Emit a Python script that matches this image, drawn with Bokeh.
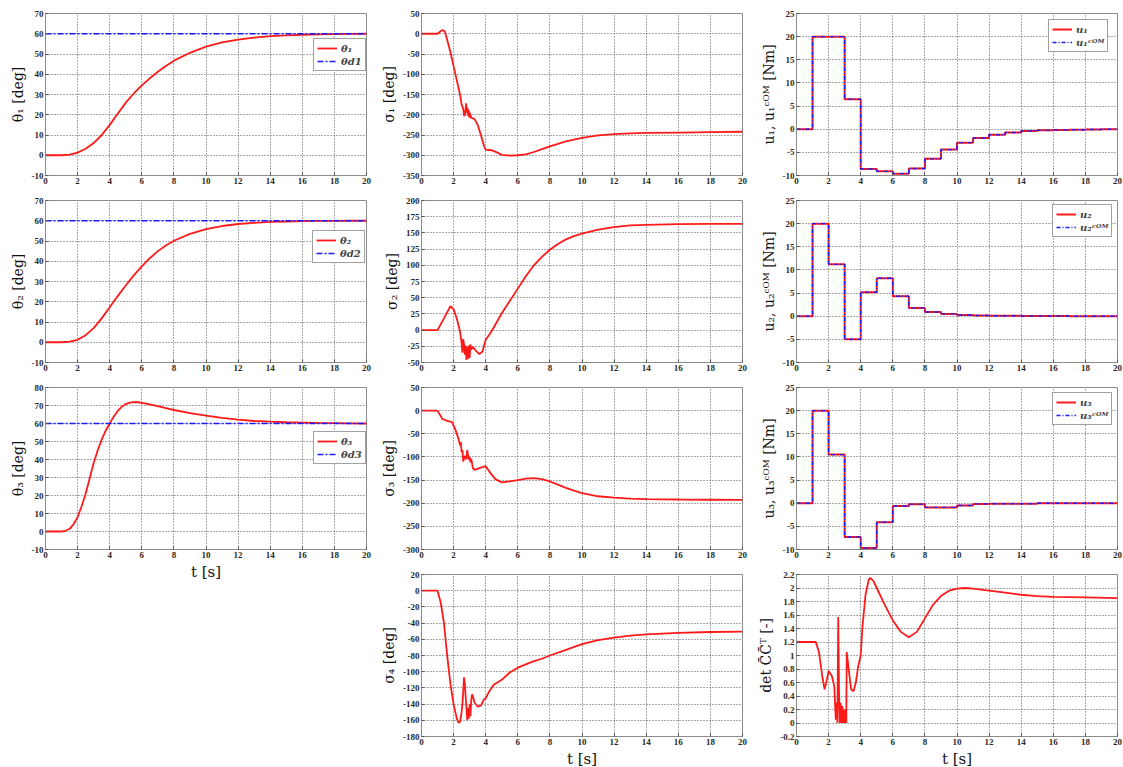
from bokeh.plotting import figure
from bokeh.models import Range1d, FixedTicker, CustomJSTickFormatter, Legend, LegendItem
from bokeh.layouts import row, column
from bokeh.embed import file_html
from bokeh.resources import INLINE

# ---------------- data ----------------
t_theta = [0, 1, 1.5, 2, 2.5, 3, 3.5, 4, 4.5, 5, 5.5, 6, 6.5, 7, 7.5, 8, 9, 10, 11, 12, 13, 14, 15, 16, 17, 18, 19, 20]
theta1 = [0, 0, 0.3, 1.3, 3.2, 6, 10, 15, 20.5, 26, 30.5, 34.5, 38, 41.2, 44.1, 46.7, 50.6, 53.6, 55.7, 57.1, 58.1, 58.8, 59.2, 59.5, 59.7, 59.8, 59.9, 60]
theta2 = [0, 0, 0.3, 1.2, 3.5, 7, 11.8, 17.3, 22.8, 28, 33, 37.5, 41.5, 45, 47.8, 50.1, 53.5, 55.9, 57.4, 58.4, 59, 59.4, 59.6, 59.8, 59.9, 59.95, 60, 60]
t_theta3 = [0, 1, 1.25, 1.5, 1.75, 2, 2.25, 2.5, 2.75, 3, 3.25, 3.5, 3.75, 4, 4.25, 4.5, 4.75, 5, 5.25, 5.5, 5.75, 6, 6.5, 7, 7.5, 8, 9, 10, 11, 12, 13, 14, 15, 16, 17, 18, 19, 20]
theta3 = [0, 0, 0.4, 1.5, 4, 8, 14, 21, 29.5, 38, 45, 51, 56, 60, 63.8, 67, 69.3, 70.8, 71.6, 71.9, 71.8, 71.5, 70.6, 69.6, 68.5, 67.5, 65.8, 64.4, 63.1, 62.1, 61.4, 61, 60.7, 60.5, 60.3, 60.2, 60.1, 60]
t_des = [0, 20]
theta_d1 = [60, 60]
theta_d2 = [60, 60]
theta_d3 = [60, 60]

t_s1 = [0, 1.0, 1.15, 1.3, 1.45, 1.6, 1.8, 2.0, 2.2, 2.4, 2.5, 2.6, 2.65, 2.72, 2.78, 2.82, 2.86, 2.9, 2.94, 2.98, 3.02, 3.1, 3.3, 3.5, 3.7, 3.9, 4.0, 4.2, 4.4, 4.7, 5.0, 5.5, 6.0, 6.5, 7, 7.5, 8, 9, 10, 11, 12, 13, 14, 16, 18, 20]
sigma1 = [0, 0, 5, 9, 6, -15, -45, -80, -115, -150, -175, -185, -203, -198, -172, -195, -183, -202, -188, -207, -195, -208, -210, -225, -250, -278, -286, -287, -288, -293, -299, -301, -300, -298, -292, -285, -278, -266, -257, -251, -248, -246, -245, -244, -243, -242]

t_s2 = [0, 1.0, 1.4, 1.8, 2.0, 2.2, 2.4, 2.5, 2.55, 2.6, 2.65, 2.7, 2.75, 2.8, 2.85, 2.9, 2.95, 3.0, 3.05, 3.1, 3.2, 3.4, 3.6, 3.8, 4.0, 4.2, 4.5, 5, 5.5, 6, 6.5, 7, 7.5, 8, 8.5, 9, 9.5, 10, 11, 12, 13, 14, 16, 18, 20]
sigma2 = [0, 0, 18, 37, 32, 18, -2, -20, -35, -14, -22, -38, -24, -46, -26, -44, -24, -43, -22, -30, -26, -32, -37, -33, -15, -8, 4, 26, 45, 64, 83, 100, 113, 124, 133, 140, 145, 149, 155, 159, 161.5, 162.5, 163.5, 164, 164]

t_s3 = [0, 1.0, 1.3, 1.6, 1.9, 2.1, 2.3, 2.4, 2.45, 2.5, 2.55, 2.6, 2.7, 2.8, 2.85, 2.9, 2.95, 3.0, 3.05, 3.1, 3.2, 3.3, 3.6, 4.0, 4.3, 4.6, 5.0, 5.5, 6, 6.5, 7, 7.5, 8, 8.5, 9, 9.5, 10, 11, 12, 13, 14, 16, 18, 20]
sigma3 = [0, 0, -18, -22, -25, -40, -60, -75, -68, -90, -85, -110, -98, -105, -85, -96, -106, -100, -112, -104, -124, -128, -124, -120, -135, -148, -155, -153, -150, -147, -146, -148, -153, -160, -167, -173, -178, -185, -188, -190, -191, -192, -192.5, -193]

t_s4 = [0, 1.0, 1.2, 1.4, 1.6, 1.8, 2.0, 2.2, 2.3, 2.4, 2.5, 2.55, 2.6, 2.65, 2.7, 2.75, 2.8, 2.85, 2.9, 2.95, 3.0, 3.05, 3.1, 3.15, 3.2, 3.3, 3.5, 3.7, 3.9, 4.0, 4.2, 4.5, 5, 5.5, 6, 6.5, 7, 7.5, 8, 9, 10, 11, 12, 13, 14, 16, 18, 20]
sigma4 = [0, 0, -15, -40, -80, -115, -140, -158, -163, -162, -150, -140, -125, -107, -115, -130, -145, -160, -145, -158, -140, -155, -135, -128, -130, -138, -143, -142, -134, -133, -125, -116, -110, -101, -95, -91, -87, -84, -80, -73, -66, -61, -58, -55.5, -54, -52, -51, -50.5]

t_det = [0, 1.2, 1.4, 1.6, 1.75, 1.9, 2.0, 2.2, 2.35, 2.45, 2.5, 2.55, 2.6, 2.65, 2.7, 2.75, 2.8, 2.85, 2.9, 2.95, 3.0, 3.05, 3.1, 3.13, 3.25, 3.4, 3.55, 3.7, 3.85, 4.0, 4.1, 4.3, 4.5, 4.6, 4.8, 5, 5.5, 6, 6.5, 7, 7.5, 8, 8.5, 9, 9.5, 10, 10.5, 11, 12, 13, 14, 15, 16, 18, 20]
det_cc = [1.2, 1.2, 1.05, 0.7, 0.5, 0.65, 0.77, 0.7, 0.55, 0.05, 0.3, 0.0, 1.57, 0.45, 0.0, 0.3, 0.0, 0.25, 0.0, 0.2, 0.0, 0.2, 0.0, 1.05, 0.8, 0.5, 0.47, 0.6, 0.85, 1.0, 1.4, 1.9, 2.12, 2.15, 2.1, 2.0, 1.75, 1.52, 1.35, 1.27, 1.35, 1.55, 1.75, 1.88, 1.96, 1.99, 2.0, 1.99, 1.96, 1.93, 1.9, 1.88, 1.87, 1.86, 1.85]

t_u = [0, 1, 2, 3, 4, 5, 6, 7, 8, 9, 10, 11, 12, 13, 14, 15, 16, 17, 18, 19, 20]
u1 = [0, 20, 20, 6.5, -8.6, -9.1, -9.6, -8.5, -6.4, -4.4, -2.9, -1.9, -1.2, -0.7, -0.4, -0.25, -0.15, -0.1, -0.05, 0, 0]
u2 = [0, 20, 11.2, -5, 5.2, 8.2, 4.3, 1.8, 0.9, 0.5, 0.25, 0.15, 0.1, 0.1, 0.05, 0.05, 0.05, 0, 0, 0, 0]
u3 = [0, 20, 10.5, -7.3, -9.7, -4.1, -0.6, -0.2, -0.9, -0.9, -0.5, -0.15, -0.1, -0.1, -0.1, 0, 0, 0, 0, 0, 0]
u1_com = list(u1)
u2_com = list(u2)
u3_com = list(u3)

x_ticks = [0, 2, 4, 6, 8, 10, 12, 14, 16, 18, 20]

RED = "#ff1a1a"
BLUE = "#1a1aff"
SERIF = "Liberation Serif"
LABEL_FONT = "DejaVu Serif"
DASHDOT = "6 2 2 2"


def ticks(lo, hi, step):
    n = int(round((hi - lo) / step))
    return [round(lo + i * step, 6) for i in range(n + 1)]


def make_fig(ylo, yhi, ystep, ylabel, xlabel=None, top=12, bottom=13, right=9):
    p = figure(frame_width=321, frame_height=162,
               x_range=Range1d(0, 20), y_range=Range1d(ylo, yhi),
               output_backend="svg", toolbar_location=None, title=None,
               min_border_left=45, min_border_right=right,
               min_border_top=top, min_border_bottom=bottom,
               background_fill_color="white", border_fill_color="white")
    p.xaxis.ticker = FixedTicker(ticks=x_ticks)
    p.yaxis.ticker = FixedTicker(ticks=ticks(ylo, yhi, ystep))
    fmt = "return (Math.round(tick*1000)/1000).toString();"
    p.xaxis.formatter = CustomJSTickFormatter(code=fmt)
    p.yaxis.formatter = CustomJSTickFormatter(code=fmt)
    for ax in p.axis:
        ax.major_label_text_font = SERIF
        ax.major_label_text_font_style = "bold"
        ax.major_label_text_font_size = "9px"
        ax.major_label_text_color = "#2a2a2a"
        ax.major_tick_in = 3
        ax.major_tick_out = 0
        ax.minor_tick_in = 0
        ax.minor_tick_out = 0
        ax.major_label_standoff = 2
        ax.axis_line_color = "#8c8c8c"
        ax.major_tick_line_color = "#555555"
        ax.axis_label_text_font = LABEL_FONT
        ax.axis_label_text_font_style = "normal"
        ax.axis_label_text_color = "#111111"
    p.yaxis.axis_label = ylabel
    p.yaxis.axis_label_text_font_size = "14px"
    p.yaxis.axis_label_standoff = 3
    if xlabel:
        p.xaxis.axis_label = xlabel
        p.xaxis.axis_label_text_font_size = "15px"
        p.xaxis.axis_label_standoff = 2
    for g in (p.xgrid, p.ygrid):
        g.grid_line_color = "#444444"
        g.grid_line_dash = "1 2"
        g.grid_line_alpha = 0.9
        g.grid_line_width = 1
    p.outline_line_color = "#8c8c8c"
    return p


def add_legend(p, items, loc):
    lg = Legend(items=[LegendItem(label=l, renderers=[r]) for l, r in items], location=loc)
    lg.label_text_font = LABEL_FONT
    lg.label_text_font_style = "bold italic"
    lg.label_text_font_size = "10px"
    lg.glyph_width = 20
    lg.glyph_height = 12
    lg.label_height = 12
    lg.label_standoff = 4
    lg.padding = 3
    lg.spacing = 1
    lg.margin = 0
    lg.border_line_color = "#444444"
    lg.border_line_width = 1
    lg.background_fill_color = "white"
    lg.background_fill_alpha = 1
    p.add_layout(lg)


# ---------- column 1 ----------
f_th1 = make_fig(-10, 70, 10, "θ₁ [deg]", top=13, right=10)
r1 = f_th1.line(t_theta, theta1, color=RED, line_width=1.8)
r2 = f_th1.line(t_des, theta_d1, color=BLUE, line_width=1.6, line_dash=DASHDOT)
add_legend(f_th1, [("θ₁", r1), ("θd1", r2)], (268, 104))

f_th2 = make_fig(-10, 70, 10, "θ₂ [deg]", right=10)
r1 = f_th2.line(t_theta, theta2, color=RED, line_width=1.8)
r2 = f_th2.line(t_des, theta_d2, color=BLUE, line_width=1.6, line_dash=DASHDOT)
add_legend(f_th2, [("θ₂", r1), ("θd2", r2)], (267, 99))

f_th3 = make_fig(-10, 80, 10, "θ₃ [deg]", xlabel="t [s]", bottom=35, right=10)
r1 = f_th3.line(t_theta3, theta3, color=RED, line_width=1.8)
r2 = f_th3.line(t_des, theta_d3, color=BLUE, line_width=1.6, line_dash=DASHDOT)
add_legend(f_th3, [("θ₃", r1), ("θd3", r2)], (268, 85))

# ---------- column 2 ----------
f_s1 = make_fig(-350, 50, 50, "σ₁ [deg]", top=13)
f_s1.line(t_s1, sigma1, color=RED, line_width=1.8)
f_s2 = make_fig(-50, 200, 25, "σ₂ [deg]")
f_s2.line(t_s2, sigma2, color=RED, line_width=1.8)
f_s3 = make_fig(-300, 50, 50, "σ₃ [deg]")
f_s3.line(t_s3, sigma3, color=RED, line_width=1.8)
f_s4 = make_fig(-180, 20, 20, "σ₄ [deg]", xlabel="t [s]", bottom=31)
f_s4.line(t_s4, sigma4, color=RED, line_width=1.8)

# ---------- column 3 ----------
f_u1 = make_fig(-10, 25, 5, "u₁, u₁ᶜᴼᴹ [Nm]", top=13, right=6)
ra = f_u1.step(t_u, u1, mode="after", color=RED, line_width=2.0)
rb = f_u1.step(t_u, u1_com, mode="after", color=BLUE, line_width=1.4, line_dash="4 2 1 2")
add_legend(f_u1, [("u₁", ra), ("u₁ᶜᴼᴹ", rb)], (252, 123))

f_u2 = make_fig(-10, 25, 5, "u₂, u₂ᶜᴼᴹ [Nm]", right=6)
ra = f_u2.step(t_u, u2, mode="after", color=RED, line_width=2.0)
rb = f_u2.step(t_u, u2_com, mode="after", color=BLUE, line_width=1.4, line_dash="4 2 1 2")
add_legend(f_u2, [("u₂", ra), ("u₂ᶜᴼᴹ", rb)], (256, 125))

f_u3 = make_fig(-10, 25, 5, "u₃, u₃ᶜᴼᴹ [Nm]", right=6)
ra = f_u3.step(t_u, u3, mode="after", color=RED, line_width=2.0)
rb = f_u3.step(t_u, u3_com, mode="after", color=BLUE, line_width=1.4, line_dash="4 2 1 2")
add_legend(f_u3, [("u₃", ra), ("u₃ᶜᴼᴹ", rb)], (256, 124))

f_det = make_fig(-0.2, 2.2, 0.2, "det C̄C̄ᵀ [-]", xlabel="t [s]", bottom=31, right=6)
f_det.line(t_det, det_cc, color=RED, line_width=1.8)

layout = row(column(f_th1, f_th2, f_th3),
             column(f_s1, f_s2, f_s3, f_s4),
             column(f_u1, f_u2, f_u3, f_det))

open("out.html", "w").write(file_html(layout, INLINE))
